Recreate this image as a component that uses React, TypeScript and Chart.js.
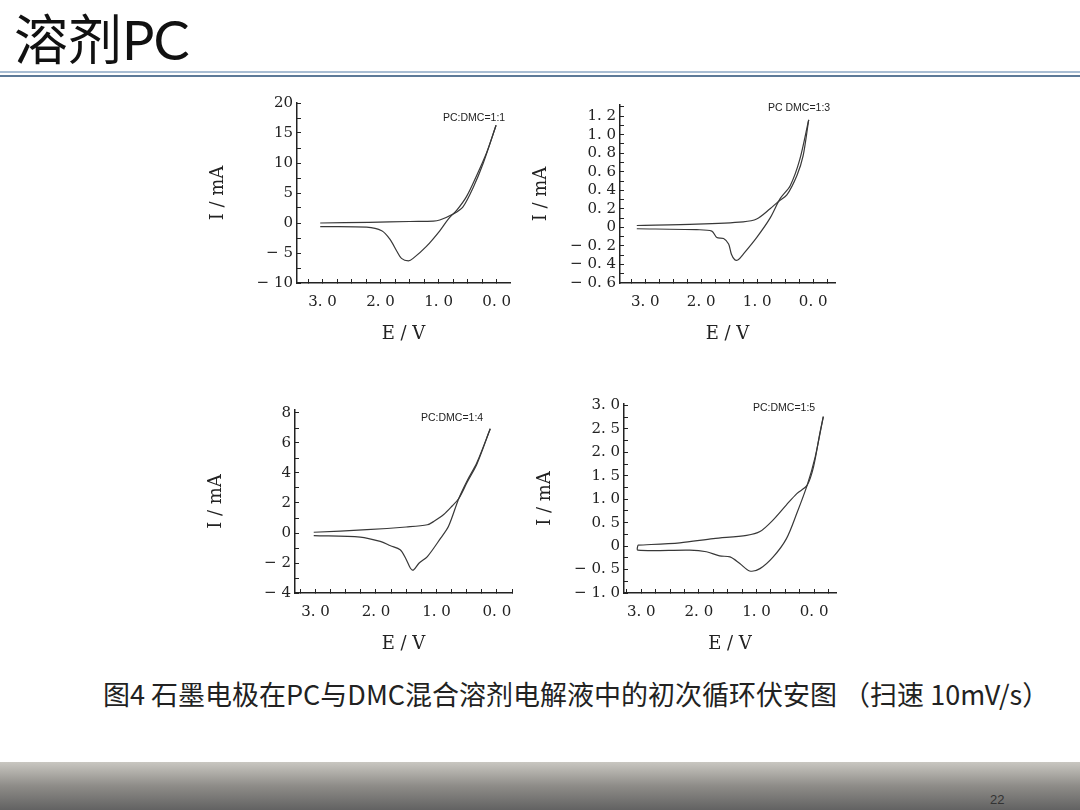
import React, { useEffect, useRef } from 'react';
import { Chart, registerables } from 'chart.js';

Chart.register(...registerables);

// PC:DMC = 1:1
const c1ForwardE = [3.04, 2.24, 1.98, 1.84, 1.72, 1.64, 1.52, 1.44, 1.21, 0.98, 0.83, 0.69, 0.52, 0.35, 0.17, 0.01];
const c1ForwardI = [-0.6, -0.7, -1.3, -2.7, -4.7, -5.9, -6.3, -5.9, -3.9, -1.3, 0.7, 2.1, 4.4, 7.8, 11.8, 16.3];
const c1ReverseE = [0.01, 0.23, 0.4, 0.58, 0.75, 0.98, 1.09, 1.5, 2.2, 3.04];
const c1ReverseI = [16.3, 10, 6, 2.7, 1.5, 0.5, 0.3, 0.25, 0.1, 0];
const c1YTicks = [-10, -5, 0, 5, 10, 15, 20];

// PC:DMC = 1:3
const c2ForwardE = [3.15, 2.08, 1.81, 1.72, 1.6, 1.51, 1.46, 1.4, 1.34, 1.25, 1.01, 0.77, 0.59, 0.41, 0.24, 0.08];
const c2ForwardI = [-0.015, -0.025, -0.04, -0.11, -0.12, -0.18, -0.29, -0.35, -0.35, -0.29, -0.11, 0.1, 0.31, 0.45, 0.73, 1.16];
const c2ReverseE = [0.08, 0.18, 0.29, 0.47, 0.62, 0.77, 1.01, 1.25, 2.08, 3.15];
const c2ReverseI = [1.16, 0.77, 0.56, 0.35, 0.28, 0.2, 0.09, 0.06, 0.035, 0.02];
const c2YTicks = [-0.6, -0.4, -0.2, 0, 0.2, 0.4, 0.6, 0.8, 1.0, 1.2];

// PC:DMC = 1:4
const c3ForwardE = [3.03, 2.26, 1.93, 1.76, 1.6, 1.51, 1.43, 1.38, 1.29, 1.15, 0.93, 0.8, 0.63, 0.49, 0.33, 0.11];
const c3ForwardI = [-0.18, -0.27, -0.56, -0.85, -1.12, -1.68, -2.35, -2.47, -2.02, -1.57, -0.34, 0.45, 2.3, 3.5, 4.7, 6.95];
const c3ReverseE = [0.11, 0.33, 0.49, 0.63, 0.74, 0.88, 1.04, 1.15, 1.5, 2.15, 3.03];
const c3ReverseI = [6.95, 4.6, 3.4, 2.3, 1.8, 1.23, 0.78, 0.55, 0.4, 0.22, 0.05];
const c3YTicks = [-4, -2, 0, 2, 4, 6, 8];

// PC:DMC = 1:5
const c4ForwardE = [3.06, 3.06, 2.16, 1.87, 1.64, 1.46, 1.29, 1.12, 0.94, 0.71, 0.48, 0.3, 0.12, -0.02, -0.16];
const c4ForwardI = [0.02, -0.085, -0.085, -0.12, -0.21, -0.23, -0.37, -0.53, -0.48, -0.23, 0.16, 0.7, 1.3, 1.91, 2.76];
const c4ReverseE = [-0.16, -0.1, 0.01, 0.12, 0.3, 0.48, 0.71, 0.94, 1.17, 1.75, 2.33, 3.06];
const c4ReverseI = [2.76, 2.41, 1.69, 1.3, 1.12, 0.88, 0.56, 0.31, 0.23, 0.16, 0.07, 0.02];
const c4YTicks = [-1, -0.5, 0, 0.5, 1, 1.5, 2, 2.5, 3];

const xTickValues = [0, 1, 2, 3];
const ratioLabels = ['PC:DMC=1:1', 'PC DMC=1:3', 'PC:DMC=1:4', 'PC:DMC=1:5'];

const toPoints = (xs: number[], ys: number[]) => xs.map((x, i) => ({ x, y: ys[i] }));

const fmt = (digits: number, zero: string) => (v: number) => {
  if (Math.abs(v) < 1e-9) return zero;
  const s = Math.abs(v).toFixed(digits).replace('.', '. ');
  return v < 0 ? '− ' + s : s;
};

// labelled major ticks plus unlabelled minor ticks between them
const withMinor = (major: number[], parts: number, min: number, max: number) => {
  const step = (major[1] - major[0]) / parts;
  const out: { value: number }[] = [];
  for (let v = major[0] - step * 8; v <= max + 1e-9; v += step) {
    if (v < min - 1e-9) continue;
    out.push({ value: v });
  }
  return out;
};

const Y_W = 93;
const PAD_L = 4;
const PAD_T = 18;
const PAD_R = 10;
const X_H = 66;
const PAD_B = 4;

interface PlotProps {
  left: number;
  top: number;
  right: number;
  bottom: number;
  forwardE: number[];
  forwardI: number[];
  reverseE: number[];
  reverseI: number[];
  xMin: number;
  xMax: number;
  yMin: number;
  yMax: number;
  yTicks: number[];
  yDigits: number;
}

const CvPlot = (p: PlotProps) => {
  const canvasRef = useRef<HTMLCanvasElement>(null);
  const w = p.right - p.left + Y_W + PAD_L + PAD_R;
  const h = p.bottom - p.top + PAD_T + X_H + PAD_B;

  useEffect(() => {
    if (!canvasRef.current) return;
    const line = {
      showLine: true,
      borderColor: '#383838',
      borderWidth: 1.2,
      pointRadius: 0,
      tension: 0.3,
      fill: false,
    };
    const tickFont = { family: '"DejaVu Serif", serif', size: 15 };
    const titleFont = { family: '"DejaVu Serif", serif', size: 18 };
    const xFmt = fmt(1, '0. 0');
    const yFmt = fmt(p.yDigits, '0');
    const chart = new Chart(canvasRef.current, {
      type: 'scatter',
      data: {
        datasets: [
          { ...line, data: toPoints(p.forwardE, p.forwardI) },
          { ...line, data: toPoints(p.reverseE, p.reverseI) },
        ],
      },
      options: {
        animation: false,
        responsive: false,
        layout: { padding: { left: PAD_L, top: PAD_T, right: PAD_R, bottom: PAD_B } },
        plugins: { legend: { display: false }, tooltip: { enabled: false } },
        scales: {
          x: {
            type: 'linear',
            reverse: true,
            min: p.xMin,
            max: p.xMax,
            afterBuildTicks: (s: any) => {
              s.ticks = withMinor(xTickValues, 4, p.xMin, p.xMax);
            },
            afterFit: (s: any) => {
              s.height = X_H;
            },
            grid: { drawOnChartArea: false, tickLength: -4, color: '#222' },
            border: { color: '#222', width: 1.5 },
            ticks: {
              color: '#222',
              font: tickFont,
              padding: 14,
              maxRotation: 0,
              autoSkip: false,
              callback: (v: number) => (xTickValues.some((m) => Math.abs(m - v) < 1e-6) ? xFmt(v) : ''),
            },
            title: { display: true, text: 'E / V', color: '#222', font: titleFont },
          },
          y: {
            type: 'linear',
            min: p.yMin,
            max: p.yMax,
            afterBuildTicks: (s: any) => {
              s.ticks = withMinor(p.yTicks, 2, p.yMin, p.yMax);
            },
            afterFit: (s: any) => {
              s.width = Y_W;
            },
            grid: { drawOnChartArea: false, tickLength: -4, color: '#222' },
            border: { color: '#222', width: 1.5 },
            ticks: {
              color: '#222',
              font: tickFont,
              padding: 8,
              autoSkip: false,
              callback: (v: number) => (p.yTicks.some((m) => Math.abs(m - v) < 1e-6) ? yFmt(v) : ''),
            },
            title: { display: true, text: 'I / mA', color: '#222', font: titleFont },
          },
        },
      },
    } as any);
    return () => chart.destroy();
  }, []);

  return (
    <canvas
      ref={canvasRef}
      width={w}
      height={h}
      style={{ position: 'absolute', left: p.left - Y_W - PAD_L, top: p.top - PAD_T, width: w, height: h }}
    />
  );
};

const ratioStyle: React.CSSProperties = {
  position: 'absolute',
  fontFamily: '"Liberation Sans", Arial, sans-serif',
  fontSize: 10.5,
  color: '#222',
  whiteSpace: 'nowrap',
};

export default function App() {
  return (
    <div style={{ position: 'absolute', left: 0, top: 0, width: 1080, height: 810, background: '#fff', overflow: 'hidden' }}>
      <div
        style={{
          position: 'absolute',
          left: 14,
          top: 4,
          fontSize: 54,
          lineHeight: '66px',
          color: '#111',
          fontFamily: '"Noto Sans CJK SC", sans-serif',
          whiteSpace: 'nowrap',
        }}
      >
        溶剂<span style={{ fontFamily: 'Lato, sans-serif', letterSpacing: -1 }}>PC</span>
      </div>
      <div style={{ position: 'absolute', left: 0, top: 71, width: 1080, height: 2, background: '#a8bdd3' }} />
      <div style={{ position: 'absolute', left: 0, top: 74.5, width: 1080, height: 2, background: '#5d7a98' }} />

      <CvPlot left={297} top={103} right={510} bottom={283} forwardE={c1ForwardE} forwardI={c1ForwardI} reverseE={c1ReverseE} reverseI={c1ReverseI} xMin={-0.23} xMax={3.44} yMin={-10} yMax={20} yTicks={c1YTicks} yDigits={0} />
      <CvPlot left={620} top={105} right={835} bottom={283} forwardE={c2ForwardE} forwardI={c2ForwardI} reverseE={c2ReverseE} reverseI={c2ReverseI} xMin={-0.39} xMax={3.45} yMin={-0.6} yMax={1.32} yTicks={c2YTicks} yDigits={1} />
      <CvPlot left={295} top={410} right={512} bottom={593} forwardE={c3ForwardE} forwardI={c3ForwardI} reverseE={c3ReverseE} reverseI={c3ReverseI} xMin={-0.25} xMax={3.34} yMin={-4} yMax={8.2} yTicks={c3YTicks} yDigits={0} />
      <CvPlot left={624} top={404} right={836} bottom={593} forwardE={c4ForwardE} forwardI={c4ForwardI} reverseE={c4ReverseE} reverseI={c4ReverseI} xMin={-0.38} xMax={3.3} yMin={-1} yMax={3.03} yTicks={c4YTicks} yDigits={1} />

      <div style={{ ...ratioStyle, left: 443, top: 111 }}>{ratioLabels[0]}</div>
      <div style={{ ...ratioStyle, left: 768, top: 101 }}>{ratioLabels[1]}</div>
      <div style={{ ...ratioStyle, left: 421, top: 411 }}>{ratioLabels[2]}</div>
      <div style={{ ...ratioStyle, left: 753, top: 401 }}>{ratioLabels[3]}</div>

      <div
        style={{
          position: 'absolute',
          left: 103,
          top: 676,
          fontSize: 27,
          lineHeight: '35px',
          color: '#222',
          fontFamily: '"Noto Sans CJK SC", sans-serif',
          whiteSpace: 'nowrap',
        }}
      >
        图4 石墨电极在PC与DMC混合溶剂电解液中的初次循环伏安图 （扫速 10mV/s）
      </div>

      <div
        style={{
          position: 'absolute',
          left: 0,
          top: 762,
          width: 1080,
          height: 48,
          background: 'linear-gradient(#c9c7c1, #8e8c88 50%, #626262)',
        }}
      />
      <div
        style={{
          position: 'absolute',
          left: 990,
          top: 792,
          fontSize: 13,
          color: '#333',
          fontFamily: '"Liberation Sans Narrow", "Liberation Sans", sans-serif',
        }}
      >
        22
      </div>
    </div>
  );
}
